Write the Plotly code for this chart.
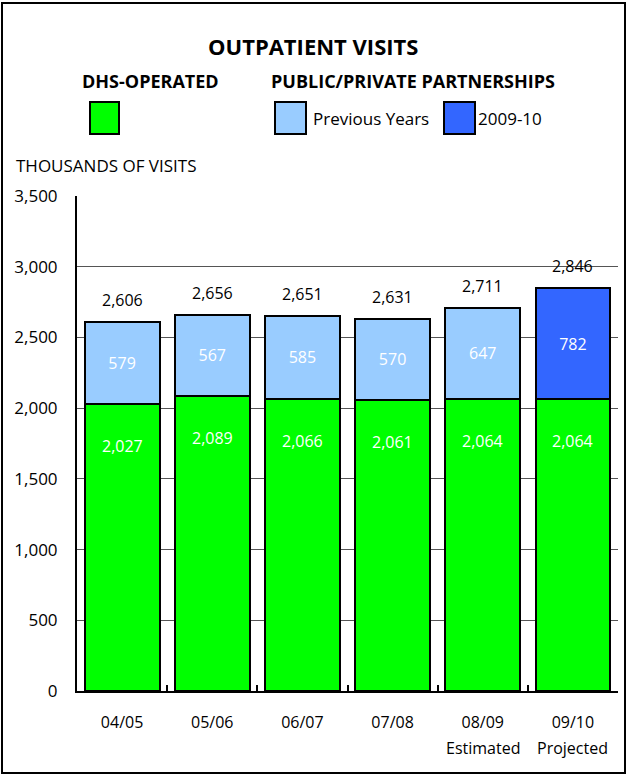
import plotly.graph_objects as go

# ---- data ----
categories = ["04/05", "05/06", "06/07", "07/08", "08/09", "09/10"]
tick_labels = ["04/05", "05/06", "06/07", "07/08", "08/09", "09/10"]
sub_labels = ["", "", "", "", "Estimated", "Projected"]
dhs_operated = [2027, 2089, 2066, 2061, 2064, 2064]
ppp_previous = [579, 567, 585, 570, 647, None]
ppp_2009_10 = [None, None, None, None, None, 782]
totals = [2606, 2656, 2651, 2631, 2711, 2846]
y_ticks = [0, 500, 1000, 1500, 2000, 2500, 3000, 3500]

# ---- layout geometry ----
W, H = 628, 776
L, R, T, B = 77, 10, 196, 85
PW, PH = W - L - R, H - T - B


def px(x):
    return (x - L) / PW


def py(y):
    return (H - B - y) / PH


NUM_FONT = "Open Sans, DejaVu Sans, sans-serif"
HEAD_FONT = "Liberation Sans Narrow, Open Sans, sans-serif"

GREEN = "#00FF00"
LIGHT = "#99CCFF"
DARK = "#3366FF"

fig = go.Figure()
fig.add_trace(go.Bar(
    x=categories, y=dhs_operated, name="DHS-OPERATED",
    marker=dict(color=GREEN, line=dict(color="black", width=2)),
    hoverinfo="skip",
))
fig.add_trace(go.Bar(
    x=categories, y=ppp_previous, name="Previous Years",
    marker=dict(color=LIGHT, line=dict(color="black", width=2)),
    texttemplate="%{y:,}", textposition="inside", insidetextanchor="middle",
    textfont=dict(color="white", size=16, family=NUM_FONT), textangle=0,
    constraintext="none", hoverinfo="skip",
))
fig.add_trace(go.Bar(
    x=categories, y=ppp_2009_10, name="2009-10",
    marker=dict(color=DARK, line=dict(color="black", width=2)),
    texttemplate="%{y:,}", textposition="inside", insidetextanchor="middle",
    textfont=dict(color="white", size=16, family=NUM_FONT), textangle=0,
    constraintext="none", hoverinfo="skip",
))

annotations = []
for c, v in zip(categories, dhs_operated):
    annotations.append(dict(x=c, y=v, xref="x", yref="y", text=f"{v:,}", showarrow=False,
                            yshift=-42, font=dict(color="white", size=16, family=NUM_FONT)))
for c, v in zip(categories, totals):
    annotations.append(dict(x=c, y=v, xref="x", yref="y", text=f"{v:,}", showarrow=False,
                            yshift=22, font=dict(color="black", size=16, family=NUM_FONT)))
for c, s in zip(categories, sub_labels):
    if s:
        annotations.append(dict(x=c, y=py(748), xref="x", yref="paper", text=s, showarrow=False,
                                xanchor="center", yanchor="middle",
                                font=dict(color="black", size=16, family=NUM_FONT)))

# titles and legend text
annotations += [
    dict(x=px(313), y=py(46), xref="paper", yref="paper", text="<b>OUTPATIENT VISITS</b>",
         showarrow=False, xanchor="center", yanchor="middle",
         font=dict(size=22, family=HEAD_FONT, color="black")),
    dict(x=px(150), y=py(81), xref="paper", yref="paper", text="<b>DHS-OPERATED</b>",
         showarrow=False, xanchor="center", yanchor="middle",
         font=dict(size=18, family=HEAD_FONT, color="black")),
    dict(x=px(413), y=py(81), xref="paper", yref="paper", text="<b>PUBLIC/PRIVATE PARTNERSHIPS</b>",
         showarrow=False, xanchor="center", yanchor="middle",
         font=dict(size=18, family=HEAD_FONT, color="black")),
    dict(x=px(311), y=py(118), xref="paper", yref="paper", text="Previous Years",
         showarrow=False, xanchor="left", yanchor="middle",
         font=dict(size=17, family=HEAD_FONT, color="black")),
    dict(x=px(476), y=py(118), xref="paper", yref="paper", text="2009-10",
         showarrow=False, xanchor="left", yanchor="middle",
         font=dict(size=17, family=HEAD_FONT, color="black")),
    dict(x=px(14), y=py(165), xref="paper", yref="paper", text="THOUSANDS OF VISITS",
         showarrow=False, xanchor="left", yanchor="middle",
         font=dict(size=17, family=HEAD_FONT, color="black")),
]

shapes = [
    dict(type="rect", xref="paper", yref="paper", x0=px(2), x1=px(625), y0=py(773), y1=py(3),
         line=dict(color="black", width=2), fillcolor="rgba(0,0,0,0)"),
    dict(type="rect", xref="paper", yref="paper", x0=px(90), x1=px(119), y0=py(134), y1=py(102),
         line=dict(color="black", width=2), fillcolor=GREEN),
    dict(type="rect", xref="paper", yref="paper", x0=px(275), x1=px(306), y0=py(134), y1=py(102),
         line=dict(color="black", width=2), fillcolor=LIGHT),
    dict(type="rect", xref="paper", yref="paper", x0=px(444), x1=px(475), y0=py(134), y1=py(102),
         line=dict(color="black", width=2), fillcolor=DARK),
]

fig.update_layout(
    width=W, height=H, autosize=False,
    margin=dict(l=L, r=R, t=T, b=B, pad=0),
    barmode="stack", bargap=0.17,
    showlegend=False,
    paper_bgcolor="white", plot_bgcolor="white",
    font=dict(family=NUM_FONT, size=16, color="black"),
    annotations=annotations, shapes=shapes,
    uniformtext=dict(mode=False),
)
fig.update_xaxes(
    type="category", tickmode="array", tickvals=categories, ticktext=tick_labels,
    showline=True, linecolor="black", linewidth=2,
    ticks="inside", tickson="boundaries", ticklen=6, tickwidth=2, tickcolor="black",
    showgrid=False, ticklabelstandoff=16,
    tickfont=dict(size=16, family=NUM_FONT, color="black"),
)
fig.update_yaxes(
    range=[0, 3500], tickmode="array", tickvals=y_ticks, tickformat=",",
    showline=True, linecolor="black", linewidth=2,
    showgrid=True, gridcolor="#555555", gridwidth=1, zeroline=False,
    ticks="", ticklabelstandoff=14,
    tickfont=dict(size=17, family=NUM_FONT, color="black"),
)

fig.write_html("out.html")
